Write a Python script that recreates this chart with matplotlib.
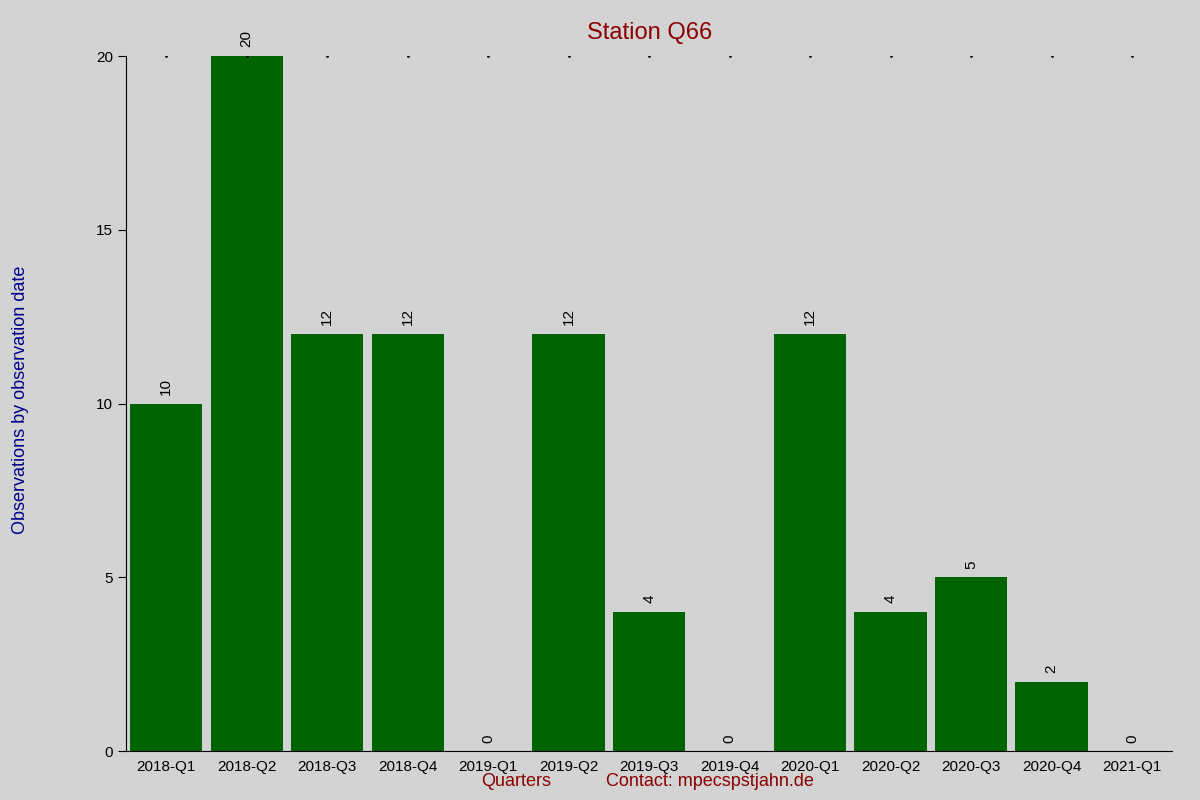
import matplotlib
matplotlib.use("Agg")
import matplotlib.pyplot as plt

quarters = ["2018-Q1","2018-Q2","2018-Q3","2018-Q4","2019-Q1","2019-Q2","2019-Q3",
            "2019-Q4","2020-Q1","2020-Q2","2020-Q3","2020-Q4","2021-Q1"]
counts = [10, 20, 12, 12, 0, 12, 4, 0, 12, 4, 5, 2, 0]

plt.rcParams['font.family'] = ['Liberation Sans', 'DejaVu Sans']
fig = plt.figure(figsize=(12, 8), dpi=100, facecolor='#d3d3d3')
ax = fig.add_axes([0.105, 0.061, 0.872, 0.869], facecolor='#d3d3d3')
x = list(range(len(quarters)))
ax.bar(x, counts, width=0.9, color='#006400')
for xi, c in zip(x, counts):
    ax.text(xi, c + 0.25, str(c), rotation=90, ha='center', va='bottom', fontsize=11)
ax.scatter(x, [20] * len(x), s=1, color='black')
ax.set_xlim(-0.5, len(quarters) - 0.5)
ax.set_ylim(0, 20)
ax.set_xticks(x)
ax.set_xticklabels(quarters, fontsize=11)
ax.set_yticks([0, 5, 10, 15, 20])
ax.tick_params(axis='y', labelsize=11, length=6)
ax.tick_params(axis='x', length=0, pad=6)
for s in ['top', 'right']:
    ax.spines[s].set_visible(False)
ax.set_title("Station Q66", color='#8b0000', fontsize=17, pad=12)
fig.text(0.43, 0.017, "Quarters", color='#8b0000', fontsize=13, ha='center')
fig.text(0.592, 0.017, "Contact: mpecspstjahn.de", color='#8b0000', fontsize=13, ha='center')
fig.text(0.01, 0.5, "Observations by observation date", color='#00008b', fontsize=13,
         rotation=90, va='center')
fig.savefig("out.png", dpi=100, facecolor='#d3d3d3')
